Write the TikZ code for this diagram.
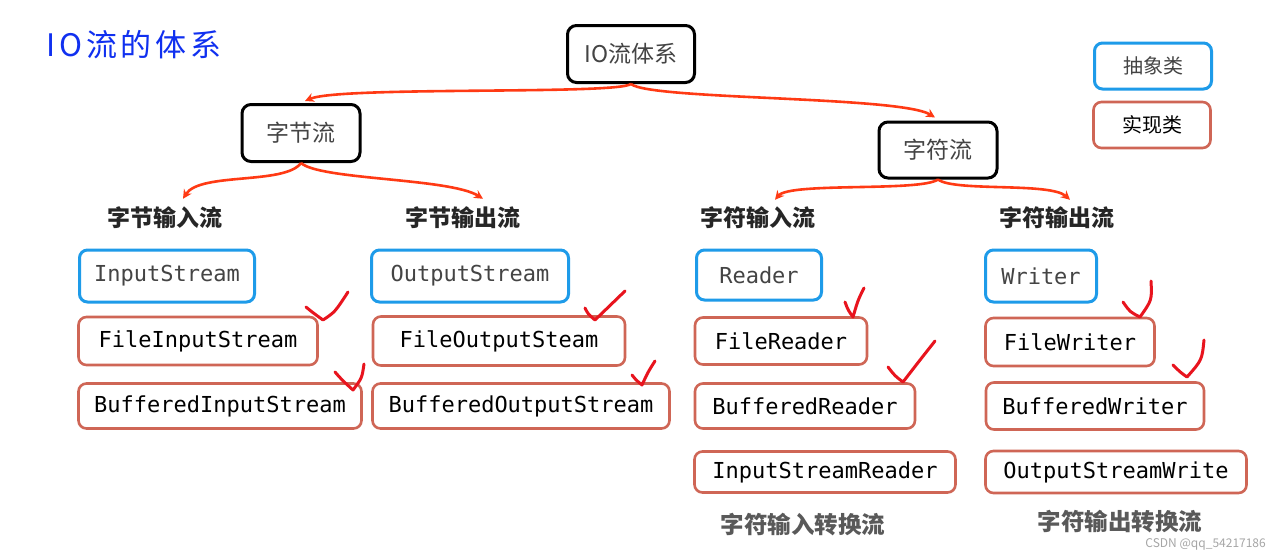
\documentclass[tikz,border=0pt]{standalone}
\usepackage{fontspec}
\setmainfont{Noto Sans CJK SC}
\setmonofont{DejaVu Sans Mono}
\newfontfamily\titlefont[LetterSpace=12]{Noto Sans CJK SC}
\usetikzlibrary{arrows.meta,calc}
\definecolor{absblue}{HTML}{1E9BE9}
\definecolor{implred}{HTML}{CF6656}
\definecolor{arrred}{HTML}{FF3A14}
\definecolor{chkred}{HTML}{E8141E}
\definecolor{txtgray}{HTML}{444444}
\definecolor{ttlblue}{HTML}{1030F0}
\begin{document}
\begin{tikzpicture}[x=1pt,y=-1pt,
  catbox/.style={draw=black,line width=3pt,rounded corners=9pt,fill=white,text=txtgray,font=\fontsize{23}{26}\selectfont,inner sep=0pt},
  absbox/.style={draw=absblue,line width=3pt,rounded corners=8pt,fill=white,text=txtgray,font=\ttfamily\fontsize{22}{26}\selectfont,inner sep=0pt},
  implbox/.style={draw=implred,line width=2.6pt,rounded corners=8pt,fill=white,text=black,font=\ttfamily\fontsize{22}{26}\selectfont,inner sep=0pt},
  grplbl/.style={font=\bfseries\fontsize{23}{26}\selectfont,text=black!85,inner sep=0pt},
  convlbl/.style={font=\bfseries\fontsize{23.5}{26}\selectfont,text=black!65,inner sep=0pt},
  flow/.style={draw=arrred,line width=2.6pt,-{Stealth[length=9pt,width=9pt]}},
  chk/.style={draw=chkred,line width=3pt,line cap=round,line join=round}
]
\useasboundingbox (0,0) rectangle (1270,552);
\fill[white] (0,0) rectangle (1270,552);

% title
\node[text=ttlblue,font=\titlefont\fontsize{31}{34}\selectfont] (title) at (134,45) {IO流的体系};

% category boxes
\node[catbox,minimum width=127pt,minimum height=57pt] (io) at (631,54) {IO流体系};
\node[catbox,minimum width=118pt,minimum height=57pt] (zj) at (301,133) {字节流};
\node[catbox,minimum width=118pt,minimum height=56pt] (zf) at (938,150) {字符流};

% legend
\node[absbox,font=\fontsize{20}{22}\selectfont,minimum width=117pt,minimum height=46pt] (legabs) at (1153,66) {抽象类};
\node[implbox,font=\fontsize{20}{22}\selectfont,minimum width=117pt,minimum height=46pt] (legimpl) at (1152,125) {实现类};

% group labels
\node[grplbl] (l1) at (165,218) {字节输入流};
\node[grplbl] (l2) at (463,218) {字节输出流};
\node[grplbl] (l3) at (758,218) {字符输入流};
\node[grplbl] (l4) at (1057,218) {字符输出流};

% byte input
\node[absbox,minimum width=175pt,minimum height=52pt] (is) at (167,276) {InputStream};
\node[implbox,minimum width=239pt,minimum height=48pt] (fis) at (198,341) {FileInputStream};
\node[implbox,minimum width=283pt,minimum height=45pt] (bis) at (220,406) {BufferedInputStream};

% byte output
\node[absbox,minimum width=197pt,minimum height=52pt] (os) at (470,276) {OutputStream};
\node[implbox,minimum width=252pt,minimum height=49pt] (fos) at (499,341) {FileOutputSteam};
\node[implbox,minimum width=297pt,minimum height=45pt] (bos) at (521,406) {BufferedOutputStream};

% char input
\node[absbox,minimum width=125pt,minimum height=50pt] (rd) at (759,275) {Reader};
\node[implbox,minimum width=172pt,minimum height=47pt] (frd) at (781,341) {FileReader};
\node[implbox,minimum width=220pt,minimum height=45pt] (brd) at (805,406) {BufferedReader};
\node[implbox,minimum width=261pt,minimum height=41pt] (isr) at (825,472) {InputStreamReader};
\node[convlbl] (c1) at (803,525) {字符输入转换流};

% char output
\node[absbox,minimum width=111pt,minimum height=52pt] (wr) at (1041,276) {Writer};
\node[implbox,minimum width=169pt,minimum height=48pt] (fwr) at (1070,342) {FileWriter};
\node[implbox,minimum width=218pt,minimum height=47pt] (bwr) at (1095,406) {BufferedWriter};
\node[implbox,minimum width=261pt,minimum height=42pt] (osw) at (1116,472) {OutputStreamWrite};
\node[convlbl] (c2) at (1120,522) {字符输出转换流};

% watermark
\node[text=black!35,font=\fontsize{12}{14}\selectfont,anchor=east,inner sep=0pt] (wm) at (1266,544) {CSDN @qq\_54217186};

% connectors
\draw[flow] (io.south) .. controls (615,95) and (340,86) .. ($(zj.north)+(4,-2)$);
\draw[flow] (io.south) .. controls (650,100) and (900,96) .. ($(zf.north)+(-3,-3)$);
\draw[flow] (zj.south) .. controls (285,185) and (200,172) .. ($(l1.north)+(18,-8)$);
\draw[flow] (zj.south) .. controls (320,180) and (450,178) .. ($(l2.north)+(20,-8)$);
\draw[flow] (zf.south) .. controls (920,192) and (790,182) .. ($(l3.north)+(17,-7)$);
\draw[flow] (zf.south) .. controls (955,192) and (1050,182) .. ($(l4.north)+(13,-7)$);

% check marks
\draw[chk] (306,307) .. controls (312,312) .. (323,320) .. controls (335,312) .. (348,292);
\draw[chk] (335,372) .. controls (342,380) .. (353,390) .. controls (362,378) .. (364,364);
\draw[chk] (585,308) .. controls (588,314) .. (595,320) .. controls (610,305) .. (625,291);
\draw[chk] (632,375) .. controls (636,380) .. (642,385) .. controls (648,372) .. (655,361);
\draw[chk] (845,302) .. controls (848,310) .. (853,317) .. controls (858,300) .. (864,288);
\draw[chk] (888,367) .. controls (895,376) .. (903,382) .. controls (920,360) .. (935,341);
\draw[chk] (1123,302) .. controls (1130,312) .. (1140,317) .. controls (1152,300) .. (1151,281);
\draw[chk] (1173,365) .. controls (1180,372) .. (1187,377) .. controls (1202,360) .. (1204,340);
\end{tikzpicture}
\end{document}
